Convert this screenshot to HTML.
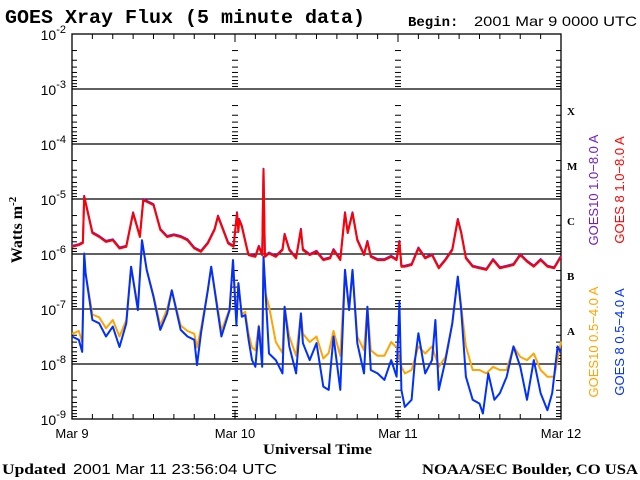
<!DOCTYPE html>
<html><head><meta charset="utf-8"><style>
body{margin:0;background:#fff;width:640px;height:480px;overflow:hidden}
svg{display:block}
.serif{font-family:"Liberation Serif",serif;font-weight:bold}
.mono{font-family:"Liberation Mono",monospace;font-weight:bold}
.sans{font-family:"Liberation Sans",sans-serif}
</style></head><body>
<svg id="chart" width="640" height="480" xmlns="http://www.w3.org/2000/svg">
<text x="5" y="23" class="mono" font-size="19" textLength="360" lengthAdjust="spacingAndGlyphs">GOES Xray Flux (5 minute data)</text>
<text x="408" y="26" font-size="13"><tspan class="mono" font-size="14">Begin:</tspan><tspan class="sans" x="474" font-size="14" textLength="163" lengthAdjust="spacingAndGlyphs">2001 Mar 9 0000 UTC</tspan></text>
<text transform="translate(22,230) rotate(-90)" text-anchor="middle" class="serif" font-size="16">Watts m<tspan dy="-6" font-size="11">-2</tspan></text>
<text x="263" y="454" class="serif" font-size="15" textLength="109" lengthAdjust="spacingAndGlyphs">Universal Time</text>
<text x="2" y="474" font-size="15"><tspan class="serif" textLength="64" lengthAdjust="spacingAndGlyphs">Updated</tspan><tspan class="sans" x="73" textLength="204" lengthAdjust="spacingAndGlyphs">2001 Mar 11 23:56:04 UTC</tspan></text>
<text x="422" y="474" class="serif" font-size="15" textLength="216" lengthAdjust="spacingAndGlyphs">NOAA/SEC Boulder, CO USA</text>
<text transform="translate(598,190) rotate(-90)" text-anchor="middle" class="sans" font-size="13" fill="#7020c0">GOES10 1.0−8.0 A</text>
<text transform="translate(624,190) rotate(-90)" text-anchor="middle" class="sans" font-size="13" fill="#ff0000">GOES 8 1.0−8.0 A</text>
<text transform="translate(598,342) rotate(-90)" text-anchor="middle" class="sans" font-size="13" fill="#ffa500">GOES10 0.5−4.0 A</text>
<text transform="translate(624,342) rotate(-90)" text-anchor="middle" class="sans" font-size="13" fill="#0030ff">GOES 8 0.5−4.0 A</text>
<g id="axes"></g>
<g id="series"></g>
</svg>
<script>
const dayLabels=["Mar 9","Mar 10","Mar 11","Mar 12"];
const decadeExps=[-2,-3,-4,-5,-6,-7,-8,-9];
const flareClasses=["X","M","C","B","A"];
const redT=[0,1,1.6,1.8,3,4,5,6,7,8,9,10,10.5,12,13,14,15,16,17,18,19,20,21,21.5,23,23.8,24.3,24.5,24.6,25,25.8,26,27,27.5,28,28.2,28.4,29,30,31,31.3,32,33,33.7,34,35,36,37,38,38.5,39.5,40.2,40.6,41.3,42,43,43.5,44,45,46,47,47.8,48.2,48.5,49,50,51,52,53,54,55,56,56.8,57.3,58,59,60,61,62,63,64,65,66,67,68,69,70,71,72];
const redV=[-5.87,-5.84,-5.80,-4.96,-5.62,-5.69,-5.78,-5.75,-5.90,-5.87,-5.26,-5.69,-5.02,-5.11,-5.56,-5.69,-5.66,-5.69,-5.75,-5.90,-5.96,-5.81,-5.56,-5.32,-5.81,-5.87,-5.26,-5.6,-5.38,-5.50,-5.93,-6.02,-6.05,-5.87,-6.02,-4.47,-6.05,-5.99,-6.05,-5.93,-5.65,-5.93,-6.08,-5.56,-5.93,-6.02,-5.96,-6.11,-6.08,-5.93,-6.11,-5.26,-5.62,-5.26,-5.75,-6.02,-5.78,-6.05,-6.11,-6.11,-6.05,-6.11,-5.78,-6.23,-6.23,-6.20,-5.90,-6.08,-6.02,-6.26,-6.11,-5.93,-5.38,-5.62,-6.08,-6.23,-6.26,-6.29,-6.11,-6.26,-6.23,-6.20,-6.02,-6.14,-6.23,-6.11,-6.23,-6.26,-6.05];
const blueT=[0,1,1.5,1.8,2,3,4,5,6,7,8,8.7,9.7,10.3,11,12,13,14,14.7,16,17,18,18.4,19,20,20.5,22,23.2,23.7,24.2,24.5,25,25.5,26,26.5,27,27.5,28,28.2,28.5,29,30,31,31.3,32,33,33.7,34,35,36,37,37.8,38.5,39.5,40.2,40.8,41.3,42,43,43.5,44,45,46,47,47.8,48.2,48.5,49,50,50.5,51,52,53,53.5,54,55,56,56.8,57.3,58,59,60,60.5,61.3,62.2,63,64,65,66,67,68,69,70,70.7,71.5,72];
const blueV=[-7.50,-7.56,-7.78,-5.99,-6.35,-7.20,-7.26,-7.50,-7.32,-7.69,-7.26,-6.23,-7.02,-5.75,-6.29,-6.78,-7.38,-7.08,-6.66,-7.38,-7.50,-7.56,-8.02,-7.44,-6.66,-6.23,-7.50,-7.02,-6.11,-7.3,-6.53,-7.14,-7.11,-7.56,-7.93,-8.05,-7.32,-8.05,-6.05,-6.72,-7.81,-7.93,-8.17,-6.96,-7.68,-8.17,-7.08,-7.62,-7.93,-7.62,-8.41,-8.47,-7.50,-8.47,-6.29,-7.02,-6.29,-7.62,-8.17,-6.96,-8.11,-8.17,-8.29,-7.93,-8.23,-6.87,-8.47,-8.78,-8.65,-7.93,-7.44,-8.17,-7.93,-7.20,-8.47,-7.93,-7.26,-6.41,-7.02,-8.23,-8.65,-8.72,-8.90,-8.17,-8.65,-8.53,-8.23,-7.68,-8.05,-8.65,-7.93,-8.53,-8.84,-8.53,-7.68,-7.8];
const orangeT=[0,1,1.5,1.8,2,3,4,5,6,7,8,8.7,9.7,10.3,11,12,13,14,14.7,16,17,18,18.4,19,20,20.5,22,23.2,23.7,24.2,24.5,25,25.5,26,26.5,27,27.5,28,28.2,28.5,29,30,31,31.3,32,33,33.7,34,35,36,37,37.8,38.5,39.5,40.2,40.8,41.3,42,43,43.5,44,45,46,47,47.8,48.2,48.5,49,50,51,52,53,54,55,56,56.8,57.3,58,59,60,61,62,63,64,65,66,67,68,69,70,71,72];
const orangeV=[-7.45,-7.40,-7.6,-6.0,-6.35,-7.1,-7.15,-7.35,-7.2,-7.5,-7.2,-6.23,-6.95,-5.75,-6.29,-6.75,-7.3,-7.0,-6.66,-7.3,-7.4,-7.45,-7.7,-7.35,-6.66,-6.23,-7.4,-7.0,-6.11,-7.2,-6.53,-7.1,-7.05,-7.45,-7.7,-7.75,-7.3,-7.8,-6.05,-6.72,-6.95,-7.6,-7.8,-6.96,-7.5,-7.85,-7.08,-7.45,-7.6,-7.5,-7.9,-7.8,-7.4,-7.85,-6.29,-7.0,-6.29,-7.5,-7.75,-6.96,-7.75,-7.85,-7.85,-7.6,-7.7,-7.9,-8.05,-8.17,-8.11,-7.68,-7.81,-7.68,-8.05,-7.87,-7.26,-6.41,-6.95,-7.68,-8.11,-8.11,-8.17,-8.05,-8.11,-8.11,-7.68,-7.87,-7.93,-7.81,-8.11,-8.23,-8.23,-7.59];

const X0=72,X1=561,Y0=34,DEC=55,YB=419;
const xs=h=>X0+(X1-X0)*h/72;
const ys=l=>YB-(l+9)*DEC;
const NS="http://www.w3.org/2000/svg";
function mk(tag,attrs,parent){const e=document.createElementNS(NS,tag);for(const k in attrs)e.setAttribute(k,attrs[k]);parent.appendChild(e);return e;}
const ax=document.getElementById('axes');
const frame=mk('rect',{x:X0,y:Y0,width:X1-X0,height:YB-Y0,fill:'none',stroke:'#000','stroke-width':1.3},ax);


decadeExps.forEach(e=>{
  const y=ys(e);
  if(e>-9&&e<-2){const g=mk('line',{x1:X0,x2:X1,y1:y,y2:y,stroke:'#000','stroke-width':1.3},ax);
    
    }
  const t=mk('text',{x:X0-6,y:y+6,'text-anchor':'end','font-size':14,class:'sans'},ax);
  
  
  t.appendChild(document.createTextNode('10'));
  const s=mk('tspan',{dy:-7,'font-size':11},t);s.textContent=String(e);
  if(e>-9){for(let m=2;m<=9;m++){const yy=y+Math.log10(m)*DEC;
    [X0,xs(24),xs(48),X1].forEach((xx,i)=>{const len=(i==0||i==3)?5:3;
      const a=i==0?xx:xx-len; const b=i==3?xx:xx+len;
      mk('line',{x1:a,x2:b,y1:yy,y2:yy,stroke:'#000'},ax);});}}
});
for(let h=0;h<=72;h+=3){const x=xs(h),len=(h%24==0)?8:5;
  mk('line',{x1:x,x2:x,y1:YB,y2:YB-len,stroke:'#000'},ax);
  mk('line',{x1:x,x2:x,y1:Y0,y2:Y0+len,stroke:'#000'},ax);}
dayLabels.forEach((d,i)=>{const t=mk('text',{x:xs(i*24),y:438,'text-anchor':'middle','font-size':13,class:'sans'},ax);
  
  
  t.textContent=d;});
flareClasses.forEach((c,i)=>{const t=mk('text',{x:567,y:ys(-3-i)+26,'font-size':11,class:'serif'},ax);
  
  
  t.textContent=c;});
const sg=document.getElementById('series');
function line(T,V,color,name,dy){
  const pts=T.map((t,i)=>xs(t).toFixed(1)+','+(ys(V[i])+dy).toFixed(1)).join(' ');
  const p=mk('polyline',{points:pts,fill:'none',stroke:color,'stroke-width':2,'stroke-linejoin':'round'},sg);
  
  
}
line(orangeT,orangeV,'#ffa500','goes10-short-line',0);
line(blueT,blueV,'#0030ff','goes8-short-line',0);
line(redT,redV,'#7020c0','goes10-long-line',-1);
line(redT,redV,'#ff0000','goes8-long-line',0);
</script>
</body></html>
